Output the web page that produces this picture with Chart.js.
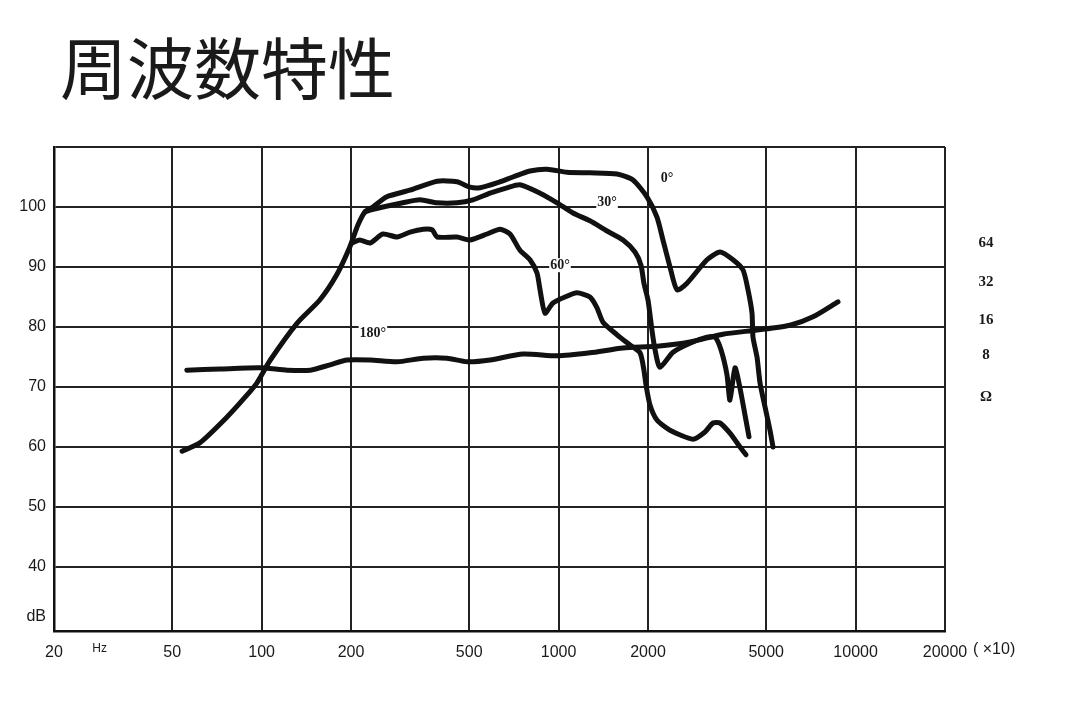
<!DOCTYPE html>
<html>
<head>
<meta charset="utf-8">
<script src="https://cdn.jsdelivr.net/npm/chart.js@4/dist/chart.umd.min.js"></script>
<style>
html,body{margin:0;padding:0;background:#fff;}
canvas{display:block;}
</style>
</head>
<body>
<canvas id="c" width="1080" height="702"></canvas>
<script>
// ---- data ----
const TITLE = '周波数特性';
const FREQ_TICKS = [20, 50, 100, 200, 500, 1000, 2000, 5000, 10000, 20000];
const FREQ_LABELS = ['20', '50', '100', '200', '500', '1000', '2000', '5000', '10000', '20000'];
const DB_TICKS = [40, 50, 60, 70, 80, 90, 100, 110];
const DB_LABELS = ['40', '50', '60', '70', '80', '90', '100'];
const IMPEDANCE_LABELS = ['64', '32', '16', '8', 'Ω'];
const CURVE_NAMES = ['0°', '30°', '60°', '180°'];

const deg0Freq = [54, 62, 76.5, 88, 96.5, 107, 132, 157, 179, 198, 211, 223, 237, 264, 316, 390, 455, 503, 544, 620, 702, 801, 914, 1067, 1275, 1573, 1780, 1984, 2144, 2246, 2372, 2504, 2706, 3160, 3496, 3866, 4178, 4342, 4480, 4514, 4656, 4766, 4954, 5150, 5272];
const deg0Db = [59.3, 60.7, 65, 68.3, 70.7, 74.5, 80.7, 84.5, 88.7, 93.3, 97, 99.2, 100, 101.7, 102.8, 104.3, 104.2, 103.3, 103.2, 104, 105, 106, 106.3, 105.8, 105.7, 105.5, 104.5, 101.7, 98.3, 94.5, 90, 86.2, 87.3, 91.2, 92.5, 91.2, 89.5, 86.2, 82.3, 78.3, 75, 70.7, 66.7, 62.8, 60];

const deg30Freq = [223, 232, 299, 341, 390, 455, 515, 588, 670, 741, 866, 988, 1118, 1275, 1456, 1648, 1808, 1894, 1938, 2000, 2062, 2112, 2194, 2428, 2770, 3160, 3362, 3522, 3690, 3776, 3926, 4082, 4244, 4376];
const deg30Db = [99.2, 99.5, 100.7, 101.2, 100.7, 100.7, 101.2, 102.3, 103.2, 103.7, 102.3, 100.7, 99, 97.7, 96, 94.5, 92.5, 90.3, 87.3, 84.5, 79.5, 76.2, 73.3, 75.8, 77.3, 78.3, 78.3, 76.2, 72, 67.8, 73.2, 69.8, 65.3, 61.7];

const deg60Freq = [202, 214, 232, 256, 286, 316, 350, 375, 390, 455, 503, 574, 635, 686, 741, 801, 846, 866, 900, 957, 1051, 1153, 1275, 1347, 1411, 1573, 1740, 1880, 1938, 1970, 2031, 2144, 2372, 2835, 3111, 3310, 3496, 3776, 4082, 4276];
const deg60Db = [94, 94.5, 94, 95.5, 95, 95.8, 96.3, 96.2, 95, 95, 94.5, 95.5, 96.3, 95.5, 92.8, 91.2, 89, 86.2, 82.3, 84, 85, 85.7, 85, 83.2, 80.8, 78.7, 77, 75.7, 72.8, 70.3, 67, 64.5, 62.8, 61.3, 62.5, 64, 64, 62.3, 60, 58.7];

const deg180Freq = [56, 72.5, 98.8, 122, 146, 170, 194, 232, 286, 350, 421, 492, 588, 759, 988, 1275, 1648, 2144, 2770, 3577, 4656, 6015, 7188, 8724];
const deg180Db = [72.8, 73, 73.2, 72.8, 72.8, 73.7, 74.5, 74.5, 74.2, 74.8, 74.8, 74.2, 74.5, 75.5, 75.2, 75.7, 76.5, 76.8, 77.5, 78.8, 79.5, 80.3, 81.7, 84.2];

// label anchor points (freq, dB) for curve names
const curveLabelFreq = [2318, 1456, 1011, 237];
const curveLabelDb = [104.8, 100.7, 90.3, 79];
// impedance label rows expressed on the dB scale
const impedanceAt = [94, 87.5, 81.2, 75.3, 68.3];

// ---- build ----
const pts = (fx, fy) => fx.map((f, i) => ({x: f, y: fy[i]}));
const INK = '#111';
const lineDs = (d) => ({
  data: d, borderColor: INK, borderWidth: 5, pointRadius: 0, tension: 0.22,
  borderJoinStyle: 'round', borderCapStyle: 'round', fill: false
});

const labelsPlugin = {
  id: 'freqLabels',
  afterDraw(chart) {
    const {ctx} = chart;
    const xs = chart.scales.x, ys = chart.scales.y;
    ctx.save();
    ctx.fillStyle = '#1a1a1a';
    // title
    ctx.font = '400 67px "Noto Sans CJK JP"';
    ctx.textAlign = 'left';
    ctx.textBaseline = 'middle';
    ctx.fillText(TITLE, 60, 69);
    // y labels
    ctx.font = '16px "Liberation Sans"';
    ctx.textAlign = 'right';
    DB_LABELS.forEach(l => ctx.fillText(l, 46, ys.getPixelForValue(Number(l))));
    ctx.fillText('dB', 46, ys.getPixelForValue(31.7));
    // x labels
    ctx.textAlign = 'center';
    FREQ_LABELS.forEach((l, i) => ctx.fillText(l, xs.getPixelForValue(FREQ_TICKS[i]), 653));
    ctx.font = '12px "Liberation Sans"';
    ctx.fillText('Hz', xs.getPixelForValue(28.5), 649);
    ctx.font = '16px "Liberation Sans"';
    ctx.textAlign = 'left';
    ctx.fillText('( ×10)', 973, 650);
    // impedance labels
    ctx.font = 'bold 15px "Liberation Serif"';
    ctx.textAlign = 'center';
    IMPEDANCE_LABELS.forEach((l, i) => ctx.fillText(l, 986, ys.getPixelForValue(impedanceAt[i])));
    // curve names
    ctx.font = 'bold 14px "Liberation Serif"';
    CURVE_NAMES.forEach((l, i) => {
      ctx.fillStyle = '#fff';
      const px = xs.getPixelForValue(curveLabelFreq[i]);
      const py = ys.getPixelForValue(curveLabelDb[i]);
      const w = ctx.measureText(l).width;
      if (i > 0) ctx.fillRect(px - w / 2 - 1, py - 7, w + 2, 14);
      ctx.fillStyle = '#1a1a1a';
      ctx.fillText(l, px, py);
    });
    ctx.restore();
  }
};

new Chart(document.getElementById('c'), {
  type: 'line',
  data: {
    datasets: [
      lineDs(pts(deg0Freq, deg0Db)),
      lineDs(pts(deg30Freq, deg30Db)),
      lineDs(pts(deg60Freq, deg60Db)),
      lineDs(pts(deg180Freq, deg180Db))
    ]
  },
  options: {
    responsive: false,
    devicePixelRatio: 1,
    animation: false,
    layout: {padding: {left: 54, top: 147, right: 135, bottom: 71}},
    plugins: {legend: {display: false}, tooltip: {enabled: false}, title: {display: false}},
    scales: {
      x: {
        type: 'logarithmic', min: 20, max: 20000,
        afterBuildTicks: s => { s.ticks = FREQ_TICKS.map(v => ({value: v})); },
        ticks: {display: false},
        grid: {color: '#222', lineWidth: 2, drawTicks: false},
        border: {display: true, color: '#111', width: 2.5}
      },
      y: {
        type: 'linear', min: 29.33, max: 110,
        afterBuildTicks: s => { s.ticks = DB_TICKS.map(v => ({value: v})); },
        ticks: {display: false},
        grid: {color: '#222', lineWidth: 2, drawTicks: false},
        border: {display: true, color: '#111', width: 2.5}
      }
    }
  },
  plugins: [labelsPlugin]
});
</script>
</body>
</html>
